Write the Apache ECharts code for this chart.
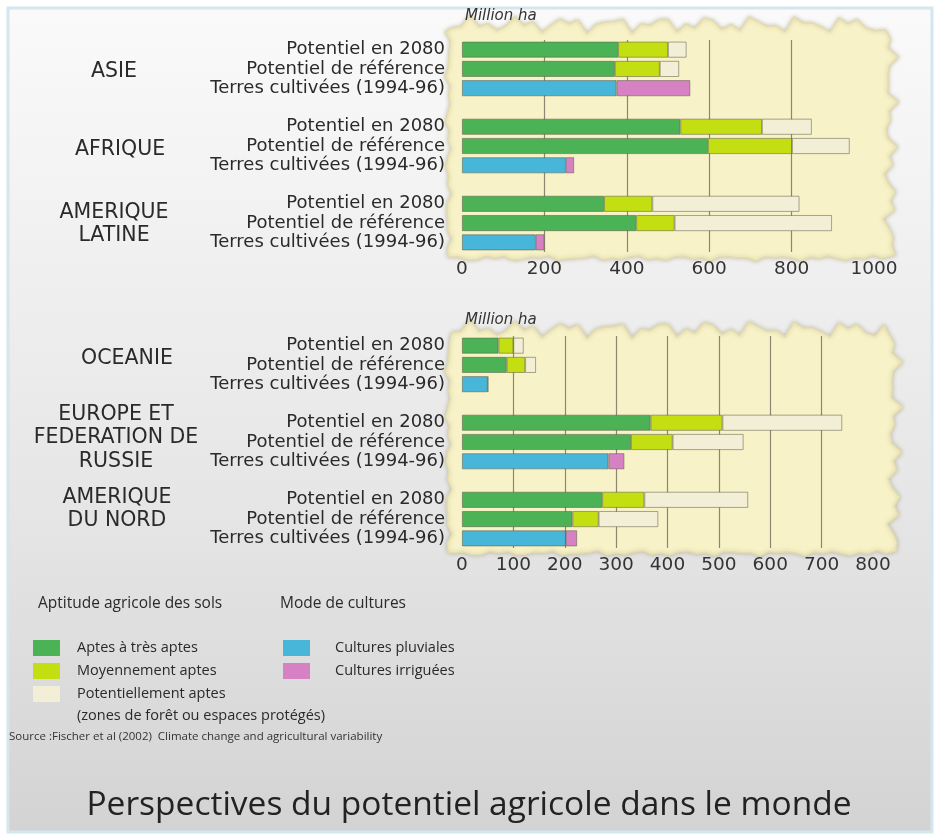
<!DOCTYPE html>
<html>
<head>
<meta charset="utf-8">
<script src="https://cdn.jsdelivr.net/npm/echarts@6/dist/echarts.min.js"></script>
<style>
  html, body { margin: 0; padding: 0; background: #fff; }
  #chart { width: 938px; height: 836px; }
</style>
</head>
<body>
<div id="chart"></div>
<script>
const rowLabels = ['Potentiel en 2080', 'Potentiel de référence', 'Terres cultivées (1994-96)']
const regionsTop = ['ASIE', 'AFRIQUE', 'AMERIQUE LATINE']
const regionsBottom = ['OCEANIE', 'EUROPE ET FEDERATION DE RUSSIE', 'AMERIQUE DU NORD']

// million ha, one inner array per region: [2080, référence, terres cultivées]
const aptesTop = [[379, 371, null], [530, 597, null], [345, 423, null]]
const moyensTop = [[121, 109, null], [198, 204, null], [117, 93, null]]
const potentielsTop = [[45, 47, null], [121, 140, null], [357, 382, null]]
const pluvialesTop = [[null, null, 375], [null, null, 252], [null, null, 179]]
const irrigueesTop = [[null, null, 179], [null, null, 20], [null, null, 21]]

const aptesBottom = [[71, 87, null], [367, 329, null], [273, 215, null]]
const moyensBottom = [[29, 36, null], [140, 81, null], [82, 51, null]]
const potentielsBottom = [[20, 21, null], [233, 138, null], [202, 116, null]]
const pluvialesBottom = [[null, null, 50], [null, null, 285], [null, null, 202]]
const irrigueesBottom = [[null, null, 1], [null, null, 31], [null, null, 22]]

const ticksTop = [0, 200, 400, 600, 800, 1000]
const ticksBottom = [0, 100, 200, 300, 400, 500, 600, 700, 800]

const names = ['Aptes à très aptes', 'Moyennement aptes', 'Potentiellement aptes', 'Cultures pluviales', 'Cultures irriguées']
const colors = ['#4cb256', '#c3df12', '#f3eed6', '#48b6d8', '#d681c4']

const FONT = 'Open Sans'
const WIDE = 'DejaVu Sans'

// one empty row between regions
function flatten (groups) {
  const out = []
  groups.forEach((g, i) => {
    if (i > 0) out.push(null)
    g.forEach(v => out.push(v))
  })
  return out
}

function categories (regions) {
  const out = []
  regions.forEach((r, i) => {
    if (i > 0) out.push('gap' + i)
    rowLabels.forEach(l => out.push(r + '|' + l))
  })
  return out
}

// wavy paper edge for the plot background
function paper (x0, y0, x1, y1, amp) {
  const pts = []
  const wob = (i, k) => amp * (0.5 + 0.5 * Math.sin(i * 1.9 + k) * Math.cos(i * 0.7 + k * 2))
  for (let x = x0, i = 0; x <= x1; x += 9, i++) pts.push([x, y0 + 14 - wob(i, 1) * 1.6])
  for (let y = y0 + 10, i = 0; y <= y1; y += 9, i++) pts.push([x1 + wob(i, 2) * 1.4, y])
  for (let x = x1, i = 0; x >= x0; x -= 9, i++) pts.push([x, y1 - 2 + wob(i, 3) * 0.5])
  for (let y = y1, i = 0; y >= y0 + 10; y -= 9, i++) pts.push([x0 - wob(i, 4) * 0.6, y])
  return pts
}

const catTop = categories(regionsTop)
const catBottom = categories(regionsBottom)

const seriesTop = [aptesTop, moyensTop, potentielsTop, pluvialesTop, irrigueesTop]
const seriesBottom = [aptesBottom, moyensBottom, potentielsBottom, pluvialesBottom, irrigueesBottom]

function makeSeries (data, idx) {
  return data.map((groups, k) => ({
    name: names[k],
    type: 'bar',
    stack: 'total' + idx,
    xAxisIndex: idx,
    yAxisIndex: idx,
    barWidth: 16,
    itemStyle: {
      color: colors[k],
      borderColor: 'rgba(90,90,70,0.65)',
      borderWidth: 0.8
    },
    emphasis: { disabled: true },
    data: flatten(groups)
  }))
}

function valueAxis (ticks, idx) {
  return {
    type: 'value',
    gridIndex: idx,
    min: ticks[0],
    max: ticks[ticks.length - 1],
    interval: ticks[1] - ticks[0],
    axisLine: { show: false },
    axisTick: { show: false },
    axisLabel: { fontFamily: WIDE, fontSize: 18.5, color: '#333', margin: 8, formatter: v => String(v) },
    splitLine: { show: true, showMinLine: false, showMaxLine: false, lineStyle: { color: '#8c8772', width: 1.2 } }
  }
}

function catAxis (cats, idx) {
  return {
    type: 'category',
    gridIndex: idx,
    inverse: true,
    data: cats,
    axisLine: { show: false },
    axisTick: { show: false },
    axisLabel: {
      interval: 0,
      fontFamily: WIDE,
      fontSize: 18,
      color: '#2a2a2a',
      margin: 17,
      formatter: v => v.split('|')[1] || ''
    }
  }
}

function regionText (lines, x, y) {
  return {
    type: 'text',
    x: x,
    y: y,
    z: 5,
    style: {
      text: lines,
      fontFamily: WIDE,
      fontSize: 20.5,
      fill: '#2a2a2a',
      textAlign: 'center',
      textVerticalAlign: 'middle',
      lineHeight: 23.5
    }
  }
}

function plainText (text, x, y, size, extra) {
  return {
    type: 'text',
    x: x,
    y: y,
    z: 5,
    style: Object.assign({ text: text, fontFamily: FONT, fontSize: size, fill: '#2a2a2a', textVerticalAlign: 'middle' }, extra || {})
  }
}

const chart = echarts.init(document.getElementById('chart'))

const option = {
  backgroundColor: '#ffffff',
  animation: false,
  grid: [
    { left: 462, width: 412, top: 40, height: 212 },
    { left: 462, width: 411, top: 336, height: 212 }
  ],
  xAxis: [valueAxis(ticksTop, 0), valueAxis(ticksBottom, 1)],
  yAxis: [catAxis(catTop, 0), catAxis(catBottom, 1)],
  legend: [
    {
      data: names.slice(0, 3),
      orient: 'vertical',
      left: 33,
      top: 640,
      padding: 0,
      itemWidth: 27,
      itemHeight: 16,
      itemGap: 7,
      selectedMode: false,
      icon: 'rect',
      itemStyle: { borderWidth: 0 },
      textStyle: { fontFamily: FONT, fontSize: 14.5, color: '#2a2a2a', padding: [0, 0, 0, 12] }
    },
    {
      data: names.slice(3),
      orient: 'vertical',
      left: 283,
      top: 640,
      padding: 0,
      itemWidth: 27,
      itemHeight: 16,
      itemGap: 7,
      selectedMode: false,
      icon: 'rect',
      itemStyle: { borderWidth: 0 },
      textStyle: { fontFamily: FONT, fontSize: 14.5, color: '#2a2a2a', padding: [0, 0, 0, 20] }
    }
  ],
  graphic: [
    {
      type: 'rect',
      z: -10,
      shape: { x: 8, y: 8, width: 924, height: 824 },
      style: {
        fill: new echarts.graphic.LinearGradient(0, 0, 0, 1, [
          { offset: 0, color: '#fafafa' },
          { offset: 0.6, color: '#e6e6e6' },
          { offset: 1, color: '#d3d3d3' }
        ]),
        stroke: '#d4e6ee',
        lineWidth: 3
      }
    },
    {
      type: 'polygon',
      z: -9,
      shape: { points: paper(452, 20, 882, 257, 12) },
      style: { fill: '#f8f2c8', stroke: '#e3dcb0', lineWidth: 1.5, shadowBlur: 4, shadowColor: 'rgba(120,110,60,0.35)' }
    },
    {
      type: 'polygon',
      z: -9,
      shape: { points: paper(452, 325, 886, 552, 12) },
      style: { fill: '#f8f2c8', stroke: '#e3dcb0', lineWidth: 1.5, shadowBlur: 4, shadowColor: 'rgba(120,110,60,0.35)' }
    },
    plainText('Million ha', 465, 16, 15, { fontFamily: WIDE, fontStyle: 'italic', fill: '#333' }),
    plainText('Million ha', 465, 320, 15, { fontFamily: WIDE, fontStyle: 'italic', fill: '#333' }),
    regionText('ASIE', 114, 72),
    regionText('AFRIQUE', 120, 150),
    regionText('AMERIQUE\nLATINE', 114, 224),
    regionText('OCEANIE', 127, 359),
    regionText('EUROPE ET\nFEDERATION DE\nRUSSIE', 116, 438),
    regionText('AMERIQUE\nDU NORD', 117, 509),
    plainText('Aptitude agricole des sols', 38, 604, 15.5),
    plainText('Mode de cultures', 280, 604, 15.5),
    plainText('(zones de forêt ou espaces protégés)', 77, 716, 14.5),
    plainText('Source :Fischer et al (2002)  Climate change and agricultural variability', 9, 737, 11.5, { fill: '#333' }),
    plainText('Perspectives du potentiel agricole dans le monde', 469, 805, 33.5, { fill: '#222', textAlign: 'center' })
  ],
  series: makeSeries(seriesTop, 0).concat(makeSeries(seriesBottom, 1))
}

chart.setOption(option)
window.addEventListener('resize', () => chart.resize())
</script>
</body>
</html>
